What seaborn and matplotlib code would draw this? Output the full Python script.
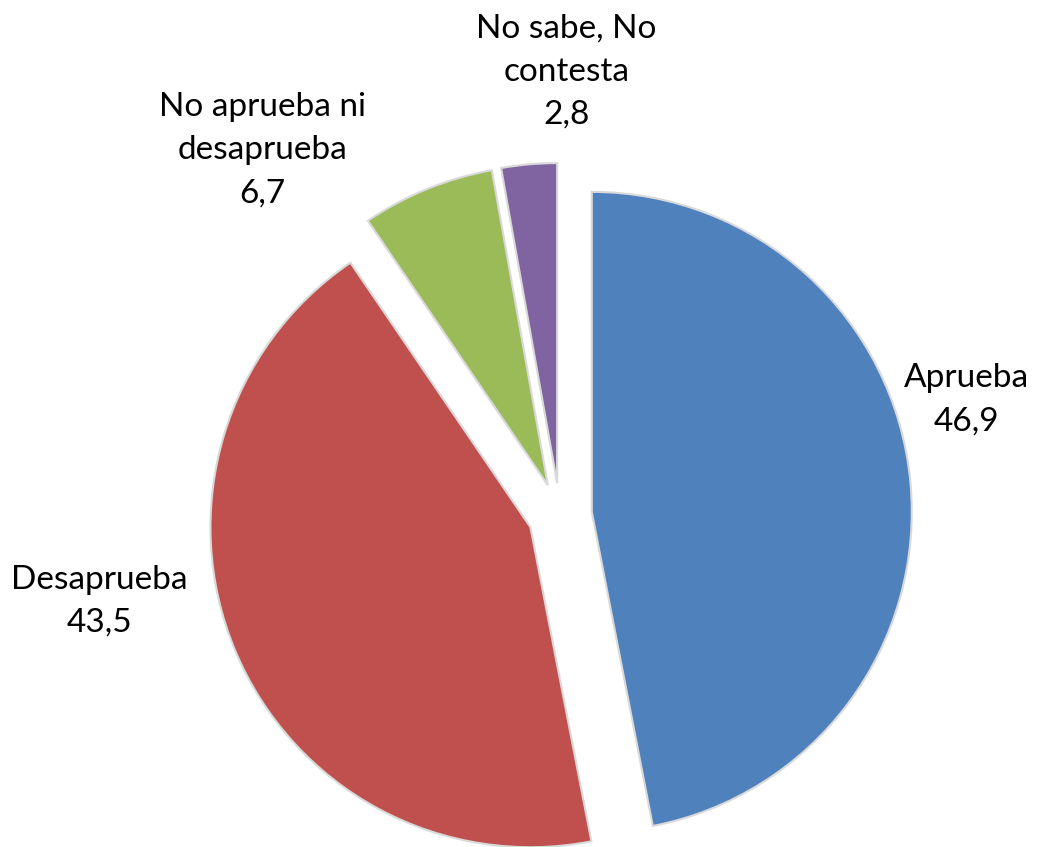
import matplotlib
matplotlib.use('Agg')
import matplotlib.pyplot as plt
import seaborn as sns

labels = ['Aprueba', 'Desaprueba', 'No aprueba ni\ndesaprueba', 'No sabe, No\ncontesta']
values = [46.9, 43.5, 6.7, 2.8]
colors = ['#4F81BD', '#C0504D', '#9BBB59', '#8064A2']

sns.set_style("white")
plt.rcParams['font.family'] = ['Lato', 'DejaVu Sans']

fig = plt.figure(figsize=(10.54, 8.47), dpi=100)
ax = fig.add_axes([0, 0, 1, 1])

wedges, _ = ax.pie(values, colors=colors, startangle=90, counterclock=False,
                   explode=[0.1] * len(values), radius=1.0,
                   wedgeprops=dict(edgecolor='#d9d9d9', linewidth=1.5))

# label blocks placed outside the slices (data units, radius = 1)
label_pos = [(1.27, 0.36), (-1.44, -0.27), (-0.93, 1.14), (0.02, 1.385)]
for lab, v, (x, y) in zip(labels, values, label_pos):
    txt = f"{lab}\n{v:.1f}".replace('.', ',')
    ax.text(x, y, txt, ha='center', va='center', fontsize=24,
            linespacing=1.55, color='black')

ax.set_xlim(-1.75, 1.544)
ax.set_ylim(-1.0375, 1.609)
ax.set_aspect('equal')
ax.axis('off')

plt.savefig('out.png', dpi=100)
plt.close()
